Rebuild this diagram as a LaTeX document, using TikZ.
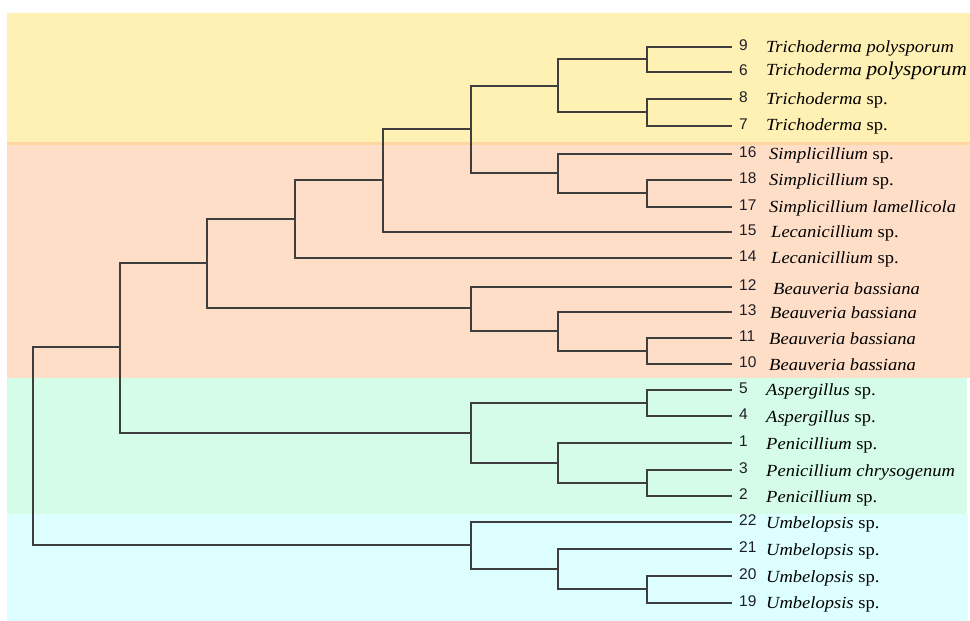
\documentclass[tikz,border=0pt]{standalone}
\usepackage{fontspec}
\setmainfont{Liberation Serif}[FakeStretch=1.09]
\newfontfamily\numfont{Liberation Sans}
\definecolor{bgyellow}{HTML}{FFF0B4}
\definecolor{bgline}{HTML}{FFD6A0}
\definecolor{bgpink}{HTML}{FFDEC8}
\definecolor{bggreen}{HTML}{D4FCE8}
\definecolor{bgcyan}{HTML}{DDFFFF}
\definecolor{brcol}{HTML}{3E3E3E}
\definecolor{numcol}{HTML}{1E1E28}
\begin{document}
\begin{tikzpicture}[x=1pt,y=-1pt,
  br/.style={draw=brcol,line width=1.3pt},
  num/.style={anchor=west,inner sep=0pt,text=numcol,font=\numfont\fontsize{15.5}{15.5}\selectfont},
  spname/.style={anchor=west,inner sep=0pt,text=black,font=\fontsize{17}{17}\selectfont}]
\useasboundingbox (0,0) rectangle (970,621);
% background bands
\fill[bgyellow] (7,13) rectangle (970,142);
\fill[bgline] (7,142) rectangle (970,145);
\fill[bgpink] (7,145) rectangle (970,378);
\fill[bggreen] (7,378) rectangle (967,514);
\fill[bgcyan] (7,514) rectangle (968,621);
% leaves: tips, numbers, names
\foreach \id/\y in {9/47,6/72,8/99,7/126,16/154,18/180,17/207,15/232,14/258,12/287,13/312,11/338,10/364,5/390,4/416,1/443,3/470,2/496,22/522,21/549,20/576,19/603}{
  \coordinate (t\id) at (732,\y);
  \node[num] (n\id) at (739,\y-1.5) {\id};
}
\node[spname] (s9) at (766,48) {\textit{Trichoderma polysporum}};
\node[spname] (s6) at (766,71) {\textit{Trichoderma \fontsize{19.5}{20}\selectfont polysporum}};
\node[spname] (s8) at (766,100) {\textit{Trichoderma} sp.};
\node[spname] (s7) at (766,126) {\textit{Trichoderma} sp.};
\node[spname] (s16) at (769,155) {\textit{Simplicillium} sp.};
\node[spname] (s18) at (769,181) {\textit{Simplicillium} sp.};
\node[spname] (s17) at (769,208) {\textit{Simplicillium lamellicola}};
\node[spname] (s15) at (771,233) {\textit{Lecanicillium} sp.};
\node[spname] (s14) at (771,259) {\textit{Lecanicillium} sp.};
\node[spname] (s12) at (773,289) {\textit{Beauveria bassiana}};
\node[spname] (s13) at (770,313) {\textit{Beauveria bassiana}};
\node[spname] (s11) at (769,339) {\textit{Beauveria bassiana}};
\node[spname] (s10) at (769,365) {\textit{Beauveria bassiana}};
\node[spname] (s5) at (766,391) {\textit{Aspergillus} sp.};
\node[spname] (s4) at (766,418) {\textit{Aspergillus} sp.};
\node[spname] (s1) at (766,445) {\textit{Penicillium} sp.};
\node[spname] (s3) at (766,472) {\textit{Penicillium chrysogenum}};
\node[spname] (s2) at (766,498) {\textit{Penicillium} sp.};
\node[spname] (s22) at (766,524) {\textit{Umbelopsis} sp.};
\node[spname] (s21) at (766,551) {\textit{Umbelopsis} sp.};
\node[spname] (s20) at (766,578) {\textit{Umbelopsis} sp.};
\node[spname] (s19) at (766,604) {\textit{Umbelopsis} sp.};
% internal nodes
\coordinate (a96) at (647,59);
\coordinate (a87) at (647,112);
\coordinate (a1817) at (647,193);
\coordinate (a1110) at (647,351);
\coordinate (a54) at (647,403);
\coordinate (a32) at (647,483);
\coordinate (a2019) at (647,589);
\coordinate (btri) at (558,86);
\coordinate (bsim) at (558,173);
\coordinate (bbea) at (558,331);
\coordinate (bpen) at (558,463);
\coordinate (bumb) at (558,569);
\coordinate (cts) at (471,129);
\coordinate (cbea) at (471,308);
\coordinate (casp) at (471,433);
\coordinate (cumb) at (471,545);
\coordinate (d15) at (383,180);
\coordinate (e14) at (295,219);
\coordinate (f) at (207,263);
\coordinate (g) at (120,347);
\coordinate (root) at (33,446);
% branches
\draw[br] (a96) |- (t9) (a96) |- (t6);
\draw[br] (a87) |- (t8) (a87) |- (t7);
\draw[br] (a1817) |- (t18) (a1817) |- (t17);
\draw[br] (a1110) |- (t11) (a1110) |- (t10);
\draw[br] (a54) |- (t5) (a54) |- (t4);
\draw[br] (a32) |- (t3) (a32) |- (t2);
\draw[br] (a2019) |- (t20) (a2019) |- (t19);
\draw[br] (btri) |- (a96) (btri) |- (a87);
\draw[br] (bsim) |- (t16) (bsim) |- (a1817);
\draw[br] (bbea) |- (t13) (bbea) |- (a1110);
\draw[br] (bpen) |- (t1) (bpen) |- (a32);
\draw[br] (bumb) |- (t21) (bumb) |- (a2019);
\draw[br] (cts) |- (btri) (cts) |- (bsim);
\draw[br] (cbea) |- (t12) (cbea) |- (bbea);
\draw[br] (casp) |- (a54) (casp) |- (bpen);
\draw[br] (cumb) |- (t22) (cumb) |- (bumb);
\draw[br] (d15) |- (cts) (d15) |- (t15);
\draw[br] (e14) |- (d15) (e14) |- (t14);
\draw[br] (f) |- (e14) (f) |- (cbea);
\draw[br] (g) |- (f) (g) |- (casp);
\draw[br] (root) |- (g) (root) |- (cumb);
\end{tikzpicture}
\end{document}
